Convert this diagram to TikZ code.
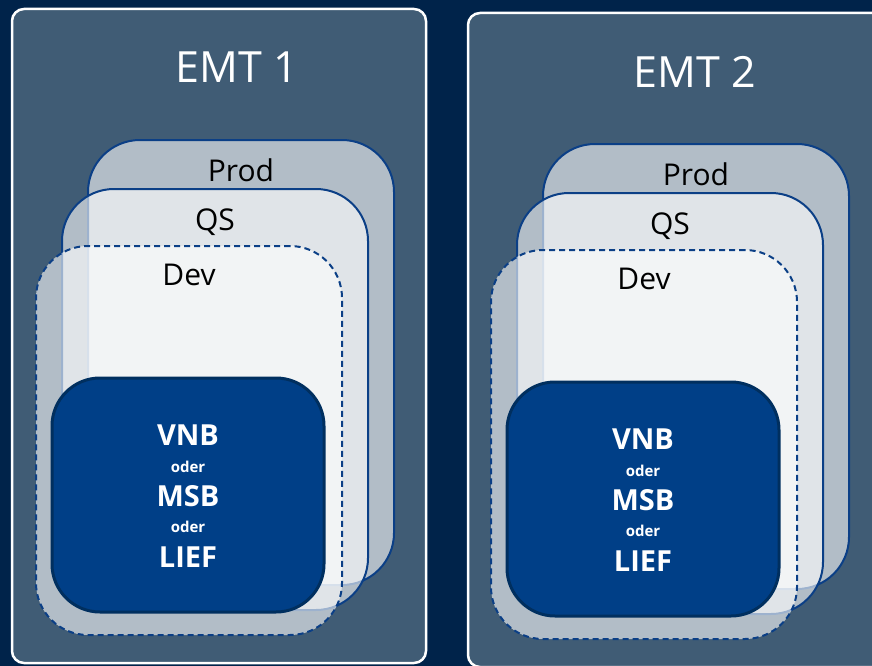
\documentclass[tikz,border=0pt]{standalone}
\usepackage{fontspec}
\setmainfont{Open Sans}
\definecolor{navy}{HTML}{00234A}
\definecolor{panel}{HTML}{405C75}
\definecolor{edgeblue}{HTML}{0B3F86}
\definecolor{core}{HTML}{003F87}
\definecolor{coreedge}{HTML}{002F5F}
\tikzset{
  panelbox/.style={rectangle, draw=white, line width=2.5pt, fill=panel, rounded corners=12pt, inner sep=0pt, outer sep=0pt},
  envbox/.style={rectangle, draw=edgeblue, line width=2pt, fill=white, fill opacity=0.6, draw opacity=1, rounded corners=52pt, inner sep=0pt, outer sep=0pt, minimum width=306pt},
  devbox/.style={envbox, dash pattern=on 6pt off 4pt},
  corebox/.style={rectangle, draw=coreedge, line width=3pt, fill=core, rounded corners=48pt, inner sep=0pt, outer sep=0pt, minimum width=272pt, minimum height=234pt},
  emtlabel/.style={text=white, font=\fontsize{43}{50}\selectfont, inner sep=0pt},
  envlabel/.style={text=black, font=\fontsize{30}{34}\selectfont, inner sep=0pt},
  biglabel/.style={text=white, font=\bfseries\fontsize{29}{32}\selectfont, inner sep=0pt},
  smalllabel/.style={text=white, font=\bfseries\fontsize{15}{17}\selectfont, inner sep=0pt},
}
\begin{document}
\begin{tikzpicture}[x=1pt,y=-1pt]
\useasboundingbox (0,0) rectangle (872,666);
\fill[navy] (0,0) rectangle (872,666);
\begin{scope}
\clip (0,0) rectangle (872,666);
% ---------- EMT 1 ----------
\node[panelbox, minimum width=414pt, minimum height=654pt] (panel1) at (219,336) {};
\node[envbox, minimum height=445pt] (prod1) at (241,362.5) {};
\node[envbox, minimum height=421pt] (qs1) at (215,399.5) {};
\node[devbox, minimum height=389pt] (dev1) at (189,440.5) {};
\node[corebox] (core1) at (188,495) {};
\node[emtlabel] (emt1) at (237,67) {EMT 1};
\node[envlabel] (prodl1) at (241,170) {Prod};
\node[envlabel] (qsl1) at (215,222) {QS};
\node[envlabel] (devl1) at (189,275) {Dev};
\node[biglabel] (vnb1) at (188,435) {VNB};
\node[smalllabel] (oa1) at (188,467) {oder};
\node[biglabel] (msb1) at (188,496) {MSB};
\node[smalllabel] (ob1) at (188,527) {oder};
\node[biglabel] (lief1) at (188,557) {LIEF};
% ---------- EMT 2 ----------
\begin{scope}[shift={(455,4)}]
\node[panelbox, minimum width=432pt, minimum height=654pt] (panel2) at (229,336) {};
\node[envbox, minimum height=445pt] (prod2) at (241,362.5) {};
\node[envbox, minimum height=421pt] (qs2) at (215,399.5) {};
\node[devbox, minimum height=389pt] (dev2) at (189,440.5) {};
\node[corebox] (core2) at (188,495) {};
\node[emtlabel] (emt2) at (240,68) {EMT 2};
\node[envlabel] (prodl2) at (241,170) {Prod};
\node[envlabel] (qsl2) at (215,222) {QS};
\node[envlabel] (devl2) at (189,275) {Dev};
\node[biglabel] (vnb2) at (188,435) {VNB};
\node[smalllabel] (oa2) at (188,467) {oder};
\node[biglabel] (msb2) at (188,496) {MSB};
\node[smalllabel] (ob2) at (188,527) {oder};
\node[biglabel] (lief2) at (188,557) {LIEF};
\end{scope}
\end{scope}
\end{tikzpicture}
\end{document}
